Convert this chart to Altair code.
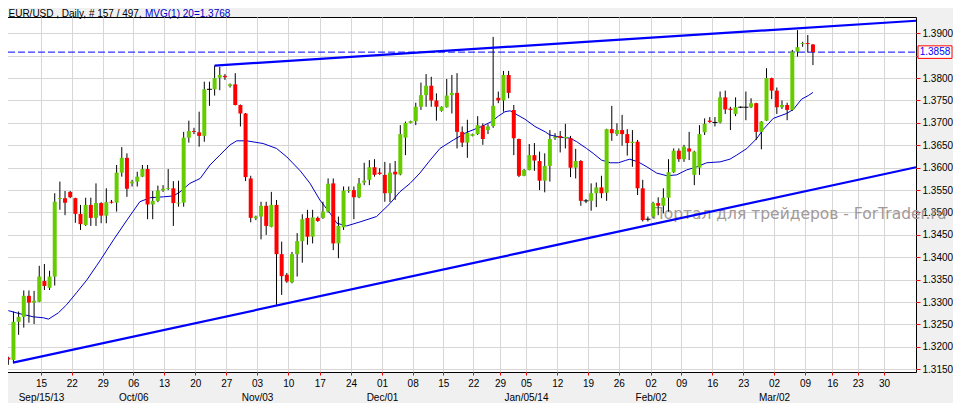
import altair as alt
import pandas as pd

# ---- EUR/USD daily bars ----
opens = [1.3176, 1.3171, 1.3256, 1.3267, 1.3314, 1.3299, 1.3301, 1.3347, 1.3332, 1.3357,
         1.3530, 1.3532, 1.3546, 1.3532, 1.3497, 1.3472, 1.3517, 1.3488, 1.3521, 1.3493,
         1.3524, 1.3522, 1.3589, 1.3622, 1.3565, 1.3569, 1.3580, 1.3597, 1.3518, 1.3526,
         1.3549, 1.3553, 1.3554, 1.3520, 1.3522, 1.3667, 1.3682, 1.3679, 1.3671, 1.3775,
         1.3775, 1.3801, 1.3805, 1.3782, 1.3786, 1.3740, 1.3721, 1.3576, 1.3487, 1.3491,
         1.3515, 1.3468, 1.3517, 1.3407, 1.3361, 1.3344, 1.3407, 1.3436, 1.3488, 1.3446,
         1.3488, 1.3488, 1.3502, 1.3565, 1.3431, 1.3467, 1.3548, 1.3550, 1.3534, 1.3567,
         1.3573, 1.3601, 1.3589, 1.3584, 1.3543, 1.3591, 1.3585, 1.3667, 1.3700, 1.3704,
         1.3736, 1.3762, 1.3783, 1.3750, 1.3727, 1.3735, 1.3762, 1.3767, 1.3680, 1.3656,
         1.3671, 1.3675, 1.3694, 1.3684, 1.3693, 1.3756, 1.3750, 1.3807, 1.3729, 1.3664,
         1.3582, 1.3595, 1.3628, 1.3615, 1.3571, 1.3604, 1.3666, 1.3671, 1.3666, 1.3666,
         1.3600, 1.3615, 1.3526, 1.3526, 1.3543, 1.3556, 1.3544, 1.3686, 1.3675, 1.3684,
         1.3675, 1.3655, 1.3658, 1.3554, 1.3485, 1.3491, 1.3521, 1.3515, 1.3533, 1.3590,
         1.3638, 1.3619, 1.3643, 1.3584, 1.3600, 1.3679, 1.3705, 1.3701, 1.3701, 1.3757,
         1.3732, 1.3720, 1.3735, 1.3735, 1.3735, 1.3744, 1.3680, 1.3705, 1.3800, 1.3772,
         1.3735, 1.3740, 1.3729, 1.3859, 1.3876, 1.3878, 1.3875]
highs = [1.3178, 1.3279, 1.3279, 1.3326, 1.3326, 1.3325, 1.3381, 1.3385, 1.3370, 1.3543,
         1.3569, 1.3548, 1.3548, 1.3533, 1.3517, 1.3533, 1.3533, 1.3565, 1.3523, 1.3554,
         1.3528, 1.3606, 1.3646, 1.3632, 1.3573, 1.3591, 1.3606, 1.3606, 1.3548, 1.3560,
         1.3561, 1.3597, 1.3570, 1.3571, 1.3680, 1.3705, 1.3689, 1.3725, 1.3792, 1.3792,
         1.3828, 1.3825, 1.3809, 1.3788, 1.3811, 1.3741, 1.3722, 1.3582, 1.3493, 1.3524,
         1.3524, 1.3546, 1.3528, 1.3435, 1.3365, 1.3412, 1.3454, 1.3496, 1.3506, 1.3506,
         1.3491, 1.3524, 1.3576, 1.3576, 1.3491, 1.3558, 1.3558, 1.3558, 1.3577, 1.3611,
         1.3617, 1.3619, 1.3599, 1.3613, 1.3610, 1.3615, 1.3695, 1.3703, 1.3705, 1.3745,
         1.3790, 1.3809, 1.3803, 1.3766, 1.3737, 1.3798, 1.3807, 1.3811, 1.3692, 1.3707,
         1.3676, 1.3715, 1.3699, 1.3697, 1.3892, 1.3770, 1.3816, 1.3816, 1.3740, 1.3665,
         1.3597, 1.3653, 1.3655, 1.3636, 1.3632, 1.3684, 1.3677, 1.3682, 1.3698, 1.3671,
         1.3642, 1.3617, 1.3530, 1.3565, 1.3567, 1.3582, 1.3687, 1.3738, 1.3699, 1.3718,
         1.3686, 1.3684, 1.3662, 1.3573, 1.3491, 1.3524, 1.3534, 1.3554, 1.3619, 1.3643,
         1.3643, 1.3651, 1.3680, 1.3638, 1.3695, 1.3710, 1.3713, 1.3713, 1.3770, 1.3772,
         1.3736, 1.3757, 1.3737, 1.3770, 1.3755, 1.3745, 1.3704, 1.3822, 1.3801, 1.3779,
         1.3750, 1.3745, 1.3863, 1.3907, 1.3881, 1.3896, 1.3876]
lows = [1.3160, 1.3166, 1.3227, 1.3243, 1.3254, 1.3251, 1.3300, 1.3327, 1.3327, 1.3337,
        1.3506, 1.3494, 1.3532, 1.3477, 1.3461, 1.3470, 1.3470, 1.3470, 1.3476, 1.3476,
        1.3520, 1.3502, 1.3580, 1.3535, 1.3558, 1.3558, 1.3579, 1.3485, 1.3485, 1.3523,
        1.3546, 1.3550, 1.3470, 1.3513, 1.3513, 1.3656, 1.3675, 1.3647, 1.3658, 1.3738,
        1.3761, 1.3773, 1.3796, 1.3779, 1.3739, 1.3692, 1.3570, 1.3478, 1.3483, 1.3440,
        1.3450, 1.3467, 1.3294, 1.3316, 1.3343, 1.3342, 1.3357, 1.3388, 1.3428, 1.3431,
        1.3479, 1.3486, 1.3500, 1.3416, 1.3398, 1.3461, 1.3544, 1.3485, 1.3532, 1.3561,
        1.3561, 1.3580, 1.3584, 1.3524, 1.3523, 1.3528, 1.3583, 1.3628, 1.3699, 1.3695,
        1.3729, 1.3736, 1.3736, 1.3705, 1.3725, 1.3734, 1.3721, 1.3643, 1.3646, 1.3622,
        1.3670, 1.3673, 1.3651, 1.3675, 1.3689, 1.3744, 1.3725, 1.3755, 1.3628, 1.3579,
        1.3581, 1.3594, 1.3593, 1.3550, 1.3545, 1.3569, 1.3662, 1.3634, 1.3643, 1.3579,
        1.3576, 1.3515, 1.3521, 1.3504, 1.3512, 1.3532, 1.3526, 1.3660, 1.3671, 1.3649,
        1.3627, 1.3602, 1.3539, 1.3480, 1.3480, 1.3487, 1.3494, 1.3498, 1.3502, 1.3588,
        1.3613, 1.3613, 1.3617, 1.3561, 1.3584, 1.3673, 1.3700, 1.3692, 1.3699, 1.3720,
        1.3684, 1.3715, 1.3733, 1.3706, 1.3733, 1.3662, 1.3641, 1.3704, 1.3753, 1.3720,
        1.3731, 1.3706, 1.3727, 1.3848, 1.3870, 1.3857, 1.3829]
closes = [1.3172, 1.3256, 1.3267, 1.3314, 1.3299, 1.3303, 1.3357, 1.3336, 1.3357, 1.3524,
          1.3532, 1.3522, 1.3534, 1.3497, 1.3474, 1.3517, 1.3488, 1.3521, 1.3493, 1.3523,
          1.3522, 1.3589, 1.3622, 1.3553, 1.3569, 1.3580, 1.3597, 1.3518, 1.3526, 1.3549,
          1.3553, 1.3555, 1.3521, 1.3522, 1.3667, 1.3682, 1.3680, 1.3671, 1.3775, 1.3775,
          1.3800, 1.3807, 1.3802, 1.3786, 1.3740, 1.3721, 1.3579, 1.3488, 1.3491, 1.3515,
          1.3470, 1.3517, 1.3407, 1.3358, 1.3346, 1.3407, 1.3436, 1.3485, 1.3446, 1.3489,
          1.3481, 1.3502, 1.3564, 1.3431, 1.3470, 1.3549, 1.3550, 1.3534, 1.3565, 1.3571,
          1.3601, 1.3584, 1.3586, 1.3543, 1.3589, 1.3585, 1.3675, 1.3700, 1.3704, 1.3736,
          1.3762, 1.3783, 1.3750, 1.3736, 1.3736, 1.3761, 1.3767, 1.3680, 1.3656, 1.3678,
          1.3675, 1.3695, 1.3664, 1.3692, 1.3738, 1.3750, 1.3807, 1.3767, 1.3666, 1.3582,
          1.3595, 1.3628, 1.3616, 1.3571, 1.3604, 1.3664, 1.3669, 1.3667, 1.3669, 1.3600,
          1.3615, 1.3526, 1.3526, 1.3543, 1.3556, 1.3543, 1.3686, 1.3677, 1.3684, 1.3675,
          1.3655, 1.3658, 1.3554, 1.3483, 1.3485, 1.3521, 1.3515, 1.3533, 1.3590, 1.3638,
          1.3619, 1.3647, 1.3636, 1.3636, 1.3675, 1.3698, 1.3702, 1.3701, 1.3757, 1.3730,
          1.3729, 1.3735, 1.3735, 1.3735, 1.3744, 1.3680, 1.3703, 1.3800, 1.3772, 1.3735,
          1.3740, 1.3729, 1.3859, 1.3869, 1.3878, 1.3876, 1.3858]

# 20-bar moving average as drawn (bar position, value)
ma_index = [0, 1.9, 4.9, 6.8, 7.8, 9.7, 11.3, 13.3, 15.2, 17.1, 18.1, 19.1, 20.4, 23.0, 25.5,
            27.5, 30.1, 32.0, 33.3, 35.2, 37.2, 39.1, 41.0, 43.0, 44.3, 46.2, 49.4, 52.0, 54.0,
            56.6, 58.5, 60.4, 62.4, 63.7, 65.6, 68.2, 71.4, 74.0, 75.9, 77.9, 79.8, 81.8, 83.7,
            86.3, 88.9, 91.8, 93.7, 95.0, 96.3, 97.3, 98.2, 100.2, 102.1, 104.1, 105.0, 107.0,
            108.9, 110.2, 112.1, 113.4, 115.0, 116.7, 118.3, 119.6, 120.5, 122.1, 123.8, 125.7,
            127.7, 129.6, 131.5, 133.5, 135.4, 138.0, 139.9, 141.2, 143.2, 145.1, 146.4, 148.3,
            150.9, 152.2, 153.8, 155.1, 156.0]
ma_value = [1.3281, 1.3275, 1.3267, 1.3265, 1.3262, 1.3276, 1.3294, 1.3322, 1.3349, 1.3381,
            1.3398, 1.3416, 1.3439, 1.3483, 1.3524, 1.3533, 1.3535, 1.3537, 1.3546, 1.3565,
            1.3576, 1.3606, 1.3628, 1.3651, 1.3660, 1.3660, 1.3654, 1.3643, 1.3624, 1.3593,
            1.3565, 1.3528, 1.3498, 1.3476, 1.3470, 1.3479, 1.3491, 1.3520, 1.3546, 1.3565,
            1.3588, 1.3617, 1.3643, 1.3662, 1.3679, 1.3692, 1.3703, 1.3715, 1.3725, 1.3727,
            1.3721, 1.3708, 1.3692, 1.3680, 1.3673, 1.3668, 1.3666, 1.3658, 1.3643, 1.3632,
            1.3617, 1.3611, 1.3611, 1.3616, 1.3619, 1.3613, 1.3602, 1.3588, 1.3582, 1.3584,
            1.3595, 1.3602, 1.3611, 1.3613, 1.3619, 1.3628, 1.3643, 1.3665, 1.3686, 1.3710,
            1.3721, 1.3730, 1.3753, 1.3761, 1.3768]

# trend lines (bar position, price)
upper_x = [40, 175.98]
upper_y = [1.3828, 1.3928]
lower_x = [0.9, 175.98]
lower_y = [1.3165, 1.3601]
last_price = 1.3858

# x axis ticks (bar position) and labels
tick_index = [6.34, 12.29, 18.30, 24.23, 30.19, 36.25, 42.26, 48.22, 54.28, 60.4,
              66.44, 72.45, 78.40, 84.33, 90.15, 95.33, 100.37, 106.44, 112.39, 118.34,
              124.54, 130.48, 136.49, 142.50, 148.45, 154.46, 159.76, 164.68, 169.78]
tick_day = ["15", "22", "29", "06", "13", "20", "27", "03", "10", "17",
            "24", "01", "08", "15", "22", "29", "05", "12", "19", "26",
            "02", "09", "16", "23", "02", "09", "16", "23", "30"]
tick_month = ["Sep/15/13", "", "", "Oct/06", "", "", "", "Nov/03", "", "",
              "", "Dec/01", "", "", "", "", "Jan/05/14", "", "", "",
              "Feb/02", "", "", "", "Mar/02", "", "", "", ""]
price_ticks = [1.3150, 1.3200, 1.3250, 1.3300, 1.3350, 1.3400, 1.3450, 1.3500,
               1.3550, 1.3600, 1.3650, 1.3700, 1.3750, 1.3800, 1.3850, 1.3900]
hidden_price_label = 1.3850  # covered by the last-price box

title_main = "EUR/USD , Daily, # 157 / 497,"
title_ma = "MVG(1) 20=1.3768"
watermark = "Портал для трейдеров - ForTrader.ru"

# ---------------- build ----------------
GREEN = "#66cc00"
RED = "#ff0000"
BLUE = "#0000ff"
FONT = "Liberation Sans"

n = len(opens)
df = pd.DataFrame({"i": list(range(n)), "o": opens, "h": highs, "l": lows, "c": closes})
df["dir"] = ["up" if c > o else ("down" if c < o else "flat") for o, c in zip(opens, closes)]
bodies = df[df["dir"] != "flat"]
dojis = df[df["dir"] == "flat"]

xs = alt.Scale(domain=[-1.0275, 175.98], nice=False, zero=False, padding=0)
ys = alt.Scale(domain=[1.314397, 1.393638], nice=False, zero=False, padding=0)

parts = []
for v, d, m in zip(tick_index, tick_day, tick_month):
    lab = "['%s', '%s']" % (d, m) if m else "'%s'" % d
    parts.append("datum.value == %r ? %s : " % (v, lab))
label_expr = "".join(parts) + "''"

x_axis = alt.Axis(values=tick_index, labelExpr=label_expr, grid=True, gridColor="#d6d6d6",
                  gridWidth=1, tickColor="red", tickSize=3, tickWidth=1, domain=False,
                  labelFont=FONT, labelFontSize=10, labelColor="black", labelPadding=3,
                  labelLineHeight=14, labelBaseline="top", labelOverlap=False,
                  labelFlush=False, labelBound=False, title=None)
y_axis = alt.Axis(orient="right", values=price_ticks, format=".4f", grid=True,
                  labelExpr="abs(datum.value - %r) < 0.00001 ? '' : datum.label" % hidden_price_label,
                  gridColor="#d6d6d6", gridWidth=1, tickColor="red", tickSize=4,
                  tickWidth=1, domain=False, labelFont=FONT, labelFontSize=10,
                  labelColor="black", labelPadding=2, labelOverlap=False,
                  labelFlush=False, title=None)


def X(field):
    return alt.X(field, scale=xs, axis=x_axis)


def Y(field):
    return alt.Y(field, scale=ys, axis=y_axis)


wm_df = pd.DataFrame({"x": [124.8], "y": [1.3485], "t": [watermark]})
wm = alt.Chart(wm_df).mark_text(align="left", baseline="alphabetic", fontSize=15.5,
                                font="DejaVu Sans", color="#a39999").encode(
    x=X("x:Q"), y=Y("y:Q"), text="t:N")

ma_df = pd.DataFrame({"x": ma_index, "y": ma_value})
ma = alt.Chart(ma_df).mark_line(color="#0000cc", strokeWidth=1).encode(x=X("x:Q"), y=Y("y:Q"))

dash_df = pd.DataFrame({"x": [-0.06], "x2": [175.98], "y": [last_price]})
dash = alt.Chart(dash_df).mark_rule(color=BLUE, strokeWidth=1, strokeDash=[7, 3]).encode(
    x=X("x:Q"), x2="x2:Q", y=Y("y:Q"))

wicks = alt.Chart(df).mark_rule(color="black", strokeWidth=1).encode(
    x=X("i:Q"), y=Y("l:Q"), y2="h:Q")

body = alt.Chart(bodies).mark_bar(size=4, opacity=1).encode(
    x=X("i:Q"), y=Y("o:Q"), y2="c:Q",
    color=alt.Color("dir:N", scale=alt.Scale(domain=["up", "down"], range=[GREEN, RED]),
                    legend=None))

doji = alt.Chart(dojis).mark_tick(orient="horizontal", size=5, thickness=1,
                                  color="black", opacity=1).encode(x=X("i:Q"), y=Y("o:Q"))

tr_df = pd.DataFrame({"x": upper_x + lower_x, "y": upper_y + lower_y,
                      "g": ["up", "up", "low", "low"]})
trend = alt.Chart(tr_df).mark_line(color=BLUE, strokeWidth=2.2).encode(
    x=X("x:Q"), y=Y("y:Q"), detail="g:N")

box_df = pd.DataFrame({"y": [1.3872], "y2": [1.3844], "p": [last_price], "t": ["1.3858"]})
box = alt.Chart(box_df).mark_rect(fill="white", stroke="red", strokeWidth=1).encode(
    x=alt.value(915), x2=alt.value(949), y=Y("y:Q"), y2="y2:Q")
box_text = alt.Chart(box_df).mark_text(color=BLUE, fontSize=10, font=FONT, align="center",
                                       baseline="middle").encode(
    x=alt.value(932), y=Y("p:Q"), text="t:N")

hd_df = pd.DataFrame({"a": [title_main], "b": [title_ma]})
head1 = alt.Chart(hd_df).mark_text(align="left", baseline="alphabetic", fontSize=10,
                                   font=FONT, color="black").encode(
    x=alt.value(5.5), y=alt.value(0), text="a:N")
head2 = alt.Chart(hd_df).mark_text(align="left", baseline="alphabetic", fontSize=10,
                                   font=FONT, color="#0000cc").encode(
    x=alt.value(142), y=alt.value(0), text="b:N")

chart = alt.layer(wm, ma, dash, wicks, body, doji, trend, box, box_text, head1, head2).properties(
    width=913, height=355,
    padding={"left": -5, "top": 9, "right": 37, "bottom": 31},
    autosize=alt.AutoSizeParams(type="none"),
    background="#f0f0f0",
).configure_view(fill="white", stroke="black", strokeWidth=1)

chart.save("out.html", embed_options={"renderer": "svg", "actions": False})
